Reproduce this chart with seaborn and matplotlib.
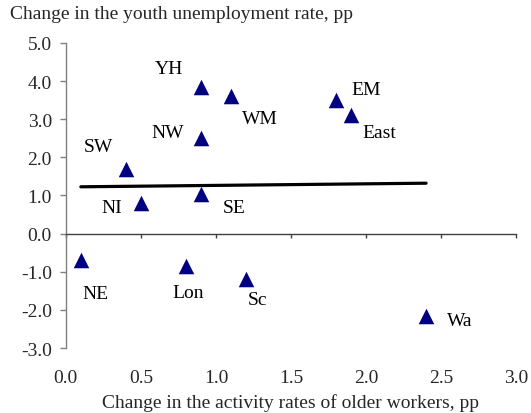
import numpy as np
import pandas as pd
import matplotlib.pyplot as plt
import seaborn as sns

# regions: change in activity rate of older workers vs youth unemployment rate (pp)
regions = ['YH', 'WM', 'EM', 'East', 'NW', 'SW', 'NI', 'SE', 'NE', 'Lon', 'Sc', 'Wa']
older_activity = [0.9, 1.1, 1.8, 1.9, 0.9, 0.4, 0.5, 0.9, 0.1, 0.8, 1.2, 2.4]
youth_unemp = [3.85, 3.6, 3.5, 3.1, 2.5, 1.7, 0.8, 1.05, -0.7, -0.85, -1.2, -2.15]

x_ticks = [0.0, 0.5, 1.0, 1.5, 2.0, 2.5, 3.0]
y_ticks = [-3.0, -2.0, -1.0, 0.0, 1.0, 2.0, 3.0, 4.0, 5.0]

# label offsets in pixels (dx, dy), purely for placement
label_offsets = {
    'YH': (-32, 18), 'WM': (29, -22), 'EM': (30, 11), 'East': (28, -17),
    'NW': (-33, 6), 'SW': (-28, 22), 'NI': (-29, -4), 'SE': (33, -14),
    'NE': (15, -33), 'Lon': (2, -26), 'Sc': (12, -20), 'Wa': (34, -5),
}

FS = 14

df = pd.DataFrame({'region': regions, 'x': older_activity, 'y': youth_unemp})

sns.set_theme(style='white')
plt.rcParams['font.family'] = ['Liberation Serif', 'DejaVu Serif']

fig = plt.figure(figsize=(5.31, 4.14), dpi=100)
ax = fig.add_axes([0.124, 0.157, 0.848, 0.737])

sns.regplot(data=df, x='x', y='y', scatter=False, ci=None, ax=ax,
            line_kws={'color': 'black', 'linewidth': 2.3})
sns.scatterplot(data=df, x='x', y='y', marker='^', s=125, color='#000080',
                edgecolor='#000080', linewidth=0, ax=ax, zorder=3)

for _, row in df.iterrows():
    dx, dy = label_offsets[row['region']]
    ax.annotate(row['region'], (row['x'], row['y']), xytext=(dx, dy),
                textcoords='offset pixels', ha='center', va='center',
                fontsize=FS, color='black')

ax.set_xlim(0, 3.0)
ax.set_ylim(-3.0, 5.0)
ax.set_xticks(x_ticks)
ax.set_yticks(y_ticks)
ax.set_yticklabels([f'{v:.1f}' for v in y_ticks], fontsize=FS)
ax.set_xlabel('')
ax.set_ylabel('')

for side in ['top', 'right']:
    ax.spines[side].set_visible(False)
ax.spines['left'].set_color('#808080')
ax.spines['left'].set_linewidth(1.0)
ax.spines['bottom'].set_position(('data', 0))
ax.spines['bottom'].set_color('#404040')
ax.spines['bottom'].set_linewidth(1.0)
ax.tick_params(axis='y', direction='out', length=4, width=1, color='#808080',
               left=True, pad=6)
ax.tick_params(axis='x', direction='out', length=3, width=1, color='#404040',
               bottom=True, labelbottom=False)

sec = ax.secondary_xaxis(0)
sec.set_xticks(x_ticks)
sec.set_xticklabels([f'{v:.1f}' for v in x_ticks], fontsize=FS)
sec.tick_params(length=0, pad=15)
sec.spines['bottom'].set_visible(False)
sec.set_xlabel('Change in the activity rates of older workers, pp',
               fontsize=FS, labelpad=5)

fig.text(0.019, 0.966, 'Change in the youth unemployment rate, pp',
         fontsize=FS, ha='left', va='center')

fig.savefig('out.png', dpi=100)
